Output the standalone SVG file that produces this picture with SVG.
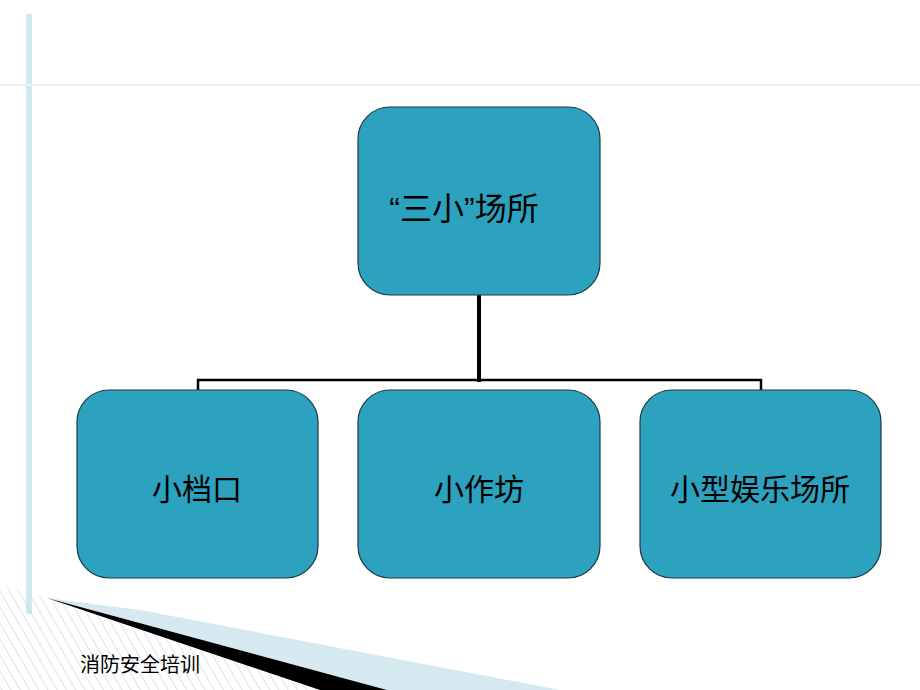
<svg xmlns="http://www.w3.org/2000/svg" width="920" height="690" viewBox="0 0 920 690">
<style>
.box{fill:#2CA2BF;stroke:#1a3a44;stroke-width:1.2}
.t{font-family:"Liberation Sans","Noto Sans CJK SC",sans-serif;fill:#000;text-anchor:middle}
.c{stroke:#000;fill:none}
</style>
<defs>
<pattern id="h" width="8" height="8" patternUnits="userSpaceOnUse" patternTransform="rotate(-30)">
<line x1="0" y1="0" x2="0" y2="8" stroke="#b8c8d4" stroke-width="1"/>
</pattern>
</defs>
<rect width="920" height="690" fill="#fff"/>
<rect x="26" y="14" width="6" height="600" fill="#d4e8f2"/>
<line x1="0" y1="85" x2="920" y2="85" stroke="#e8f2ee" stroke-width="2"/>
<polygon points="0,585 47,598 325,690 0,690" fill="url(#h)"/>
<polygon points="47,598 140,610 560,690 387,690" fill="#d6e8f0"/>
<polygon points="47,598 387,690 320,690" fill="#000"/>
<text x="140" y="672" class="t" font-size="20">消防安全培训</text>
<g id="connectors">
<line class="c" x1="479" y1="295" x2="479" y2="382" stroke-width="4"/>
<polyline class="c" points="198,390 198,380 761,380 761,390" stroke-width="2.5"/>
</g>
<g id="n0"><rect class="box" x="358" y="107" width="242" height="188" rx="32"/><text class="t" x="464" y="220" font-size="32">“三小”场所</text></g>
<g id="n1"><rect class="box" x="77" y="390" width="241" height="188" rx="32"/><text class="t" x="197" y="500" font-size="30">小档口</text></g>
<g id="n2"><rect class="box" x="358" y="390" width="242" height="188" rx="32"/><text class="t" x="479" y="500" font-size="30">小作坊</text></g>
<g id="n3"><rect class="box" x="640" y="390" width="241" height="188" rx="32"/><text class="t" x="760" y="500" font-size="30">小型娱乐场所</text></g>
</svg>
